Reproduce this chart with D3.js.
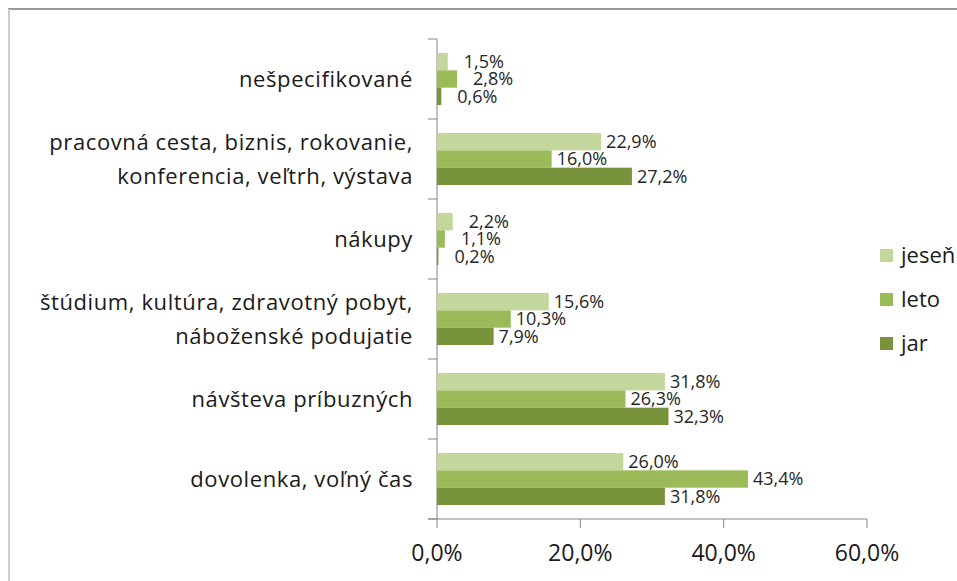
<!DOCTYPE html>
<html>
<head>
  <meta charset="utf-8">
  <title>Dôvod cesty</title>
  <style>
    * { margin: 0; padding: 0; }
    body { background: #fff; }
    text { font-family: "Open Sans", sans-serif; }
  </style>
</head>
<body>
  <script src="https://cdn.jsdelivr.net/npm/d3@7"></script>
  <script>
    var w = 957
    var h = 581

    // categories, top to bottom (label lines)
    var categories = [
      ['nešpecifikované'],
      ['pracovná cesta, biznis, rokovanie,', 'konferencia, veľtrh, výstava'],
      ['nákupy'],
      ['štúdium, kultúra, zdravotný pobyt,', 'náboženské podujatie'],
      ['návšteva príbuzných'],
      ['dovolenka, voľný čas']
    ]
    var series = ['jeseň', 'leto', 'jar']
    var colors = ['#c3d69b', '#9bbb59', '#77933c']
    var jesen = [1.5, 22.9, 2.2, 15.6, 31.8, 26.0]
    var leto = [2.8, 16.0, 1.1, 10.3, 26.3, 43.4]
    var jar = [0.6, 27.2, 0.2, 7.9, 32.3, 31.8]
    var ticks = [0, 20, 40, 60]

    var values = [jesen, leto, jar]
    var fmt = v => v.toFixed(1).replace('.', ',') + '%'

    var svg = d3.select('body').append('svg').attr('width', w).attr('height', h)

    // frame
    svg.append('line').attr('x1', 8).attr('x2', w).attr('y1', 9).attr('y2', 9)
      .attr('stroke', '#999').attr('stroke-width', 2)
    svg.append('line').attr('x1', 9).attr('x2', 9).attr('y1', 9).attr('y2', h)
      .attr('stroke', '#ccc').attr('stroke-width', 2)

    var xScale = d3.scaleLinear().domain([0, 60]).range([437, 867])
    var yScale = d3.scaleBand().domain(d3.range(categories.length)).range([39, 519])
    var y1 = d3.scaleBand().domain(series).range([14, 66])

    // category axis
    var left = svg.append('g')
    left.append('line').attr('x1', 437).attr('x2', 437).attr('y1', 39).attr('y2', 519)
      .attr('stroke', '#868686')
    left.selectAll('.tk')
      .data(d3.range(categories.length + 1))
      .enter()
      .append('line')
      .attr('x1', 428).attr('x2', 437)
      .attr('y1', i => 39 + i * yScale.step())
      .attr('y2', i => 39 + i * yScale.step())
      .attr('stroke', '#868686')

    left.selectAll('.cat')
      .data(categories)
      .enter()
      .append('text')
      .attr('text-anchor', 'end')
      .attr('font-size', '22px')
      .attr('letter-spacing', '0.6px')
      .attr('fill', '#1a1a1a')
      .each(function (d, i) {
        var cy = yScale(i) + yScale.bandwidth() / 2
        var lh = 34
        d.forEach((line, j) => {
          d3.select(this).append('tspan')
            .attr('x', 413)
            .attr('y', cy + (j - (d.length - 1) / 2) * lh)
            .attr('dy', '0.35em')
            .text(line)
        })
      })

    // value axis
    var bottom = svg.append('g')
    bottom.append('line').attr('x1', 428).attr('x2', xScale(60)).attr('y1', 519).attr('y2', 519)
      .attr('stroke', '#868686')
    bottom.selectAll('.vt')
      .data(ticks)
      .enter()
      .append('line')
      .attr('x1', d => xScale(d)).attr('x2', d => xScale(d))
      .attr('y1', 519).attr('y2', 528)
      .attr('stroke', '#868686')
    bottom.selectAll('.vl')
      .data(ticks)
      .enter()
      .append('text')
      .attr('x', d => xScale(d))
      .attr('y', 553)
      .attr('dy', '0.35em')
      .attr('text-anchor', 'middle')
      .attr('font-size', '23px')
      .attr('fill', '#1a1a1a')
      .text(fmt)

    // bars
    series.forEach((s, k) => {
      var g = svg.append('g')
      g.selectAll('rect')
        .data(values[k])
        .enter()
        .append('rect')
        .attr('x', xScale(0))
        .attr('y', (d, i) => yScale(i) + y1(s))
        .attr('width', d => xScale(d) - xScale(0))
        .attr('height', y1.bandwidth())
        .attr('fill', colors[k])
      g.selectAll('text')
        .data(values[k])
        .enter()
        .append('text')
        .attr('x', d => xScale(d) + (d < 5 ? 16 : 5))
        .attr('y', (d, i) => yScale(i) + y1(s) + y1.bandwidth() / 2)
        .attr('dy', '0.35em')
        .attr('font-size', '18px')
        .attr('fill', '#262626')
        .text(fmt)
    })

    // legend
    var legend = svg.append('g')
    legend.selectAll('rect')
      .data(series)
      .enter()
      .append('rect')
      .attr('x', 880)
      .attr('y', (d, i) => 249 + i * 44)
      .attr('width', 13).attr('height', 13)
      .attr('fill', (d, i) => colors[i])
    legend.selectAll('text')
      .data(series)
      .enter()
      .append('text')
      .attr('x', 901)
      .attr('y', (d, i) => 255 + i * 44)
      .attr('dy', '0.35em')
      .attr('font-size', '22px')
      .attr('fill', '#1a1a1a')
      .text(d => d)
  </script>
</body>
</html>
